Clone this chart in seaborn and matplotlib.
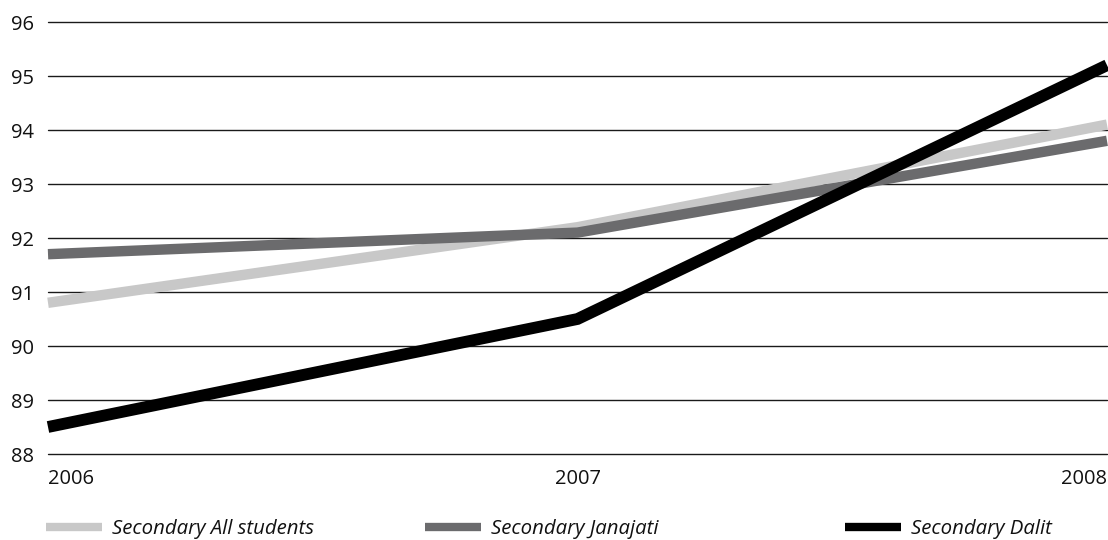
import matplotlib
matplotlib.use("Agg")
import matplotlib.pyplot as plt
import seaborn as sns
import pandas as pd
from matplotlib.lines import Line2D

years = [2006, 2007, 2008]
all_students = [90.8, 92.2, 94.1]
janajati = [91.7, 92.1, 93.8]
dalit = [88.5, 90.5, 95.2]

series_names = ["Secondary All students", "Secondary Janajati", "Secondary Dalit"]
series_values = [all_students, janajati, dalit]
colors = ["#c8c8c8", "#6b6b6d", "#000000"]
widths = [7.5, 7.5, 8.5]

rows = []
for name, vals in zip(series_names, series_values):
    for y, v in zip(years, vals):
        rows.append({"year": y, "value": v, "series": name})
df = pd.DataFrame(rows)

sns.set_theme(style="white")
plt.rcParams["font.family"] = ["Open Sans", "DejaVu Sans"]

fig = plt.figure(figsize=(11.08, 5.40), dpi=100)
ax = fig.add_axes([48 / 1108, 1 - 454 / 540, 1 - 48 / 1108 - 1 / 1108, (454 - 22) / 540])

for name, col, lw in zip(series_names, colors, widths):
    sub = df[df["series"] == name]
    sns.lineplot(data=sub, x="year", y="value", color=col, linewidth=lw,
                 ax=ax, legend=False, solid_joinstyle="miter", solid_capstyle="butt",
                 zorder=3, clip_on=False)

ax.set_xlim(2006, 2008)
ax.set_ylim(88, 96)
ax.set_yticks(range(88, 97))
ax.set_xticks(years)
ax.set_xticklabels([str(y) for y in years])
ax.grid(axis="y", color="#1a1a1a", linewidth=1.0, zorder=1)
ax.grid(axis="x", visible=False)
for gl in ax.get_ygridlines():
    gl.set_clip_on(False)
for s in ax.spines.values():
    s.set_visible(False)
ax.tick_params(axis="both", length=0, labelsize=14.5, colors="#111111")
ax.tick_params(axis="y", pad=10)
ax.tick_params(axis="x", pad=11)
xl = ax.get_xticklabels()
xl[0].set_ha("left")
xl[-1].set_ha("right")
ax.set_xlabel("")
ax.set_ylabel("")

# Legend entries spread along the bottom
legend_x = [46 / 1108, 845 / 1108 - 420 / 1108, 845 / 1108]
for name, col, x0 in zip(series_names, colors, legend_x):
    h = Line2D([0], [0], color=col, linewidth=6, solid_capstyle="butt")
    fig.legend([h], [name], loc="center left", bbox_to_anchor=(x0, 1 - 529 / 540),
               frameon=False, handlelength=2.75, handletextpad=0.5,
               borderaxespad=0, borderpad=0,
               prop={"style": "italic", "size": 14.7}, labelcolor="#111111")

fig.savefig("out.png", dpi=100)
